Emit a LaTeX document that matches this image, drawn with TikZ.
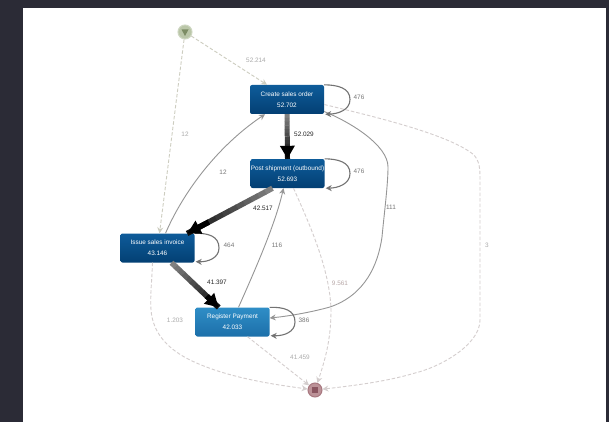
\documentclass[tikz,border=0pt]{standalone}
\usepackage{fontspec}
\setmainfont{Liberation Sans}
\usetikzlibrary{arrows.meta,calc,shapes.geometric}
\definecolor{pagebg}{HTML}{2B2B36}
\definecolor{dashstart}{HTML}{CDCDC0}
\definecolor{dashend}{HTML}{D4CECE}
\definecolor{solidedge}{HTML}{969696}
\definecolor{lab}{HTML}{777777}
\definecolor{dlab}{HTML}{ABABAB}
\definecolor{pinklab}{HTML}{B8A8A8}
\definecolor{darktop}{HTML}{0E5C9A}
\definecolor{darkbot}{HTML}{033F73}
\definecolor{lighttop}{HTML}{2F8EC6}
\definecolor{lightbot}{HTML}{1C6FAA}
\definecolor{startfill}{HTML}{BAC6A8}
\definecolor{startline}{HTML}{CDD6C0}
\definecolor{startmark}{HTML}{7C8C64}
\definecolor{endfill}{HTML}{BC9298}
\definecolor{endline}{HTML}{A87880}
\definecolor{endmark}{HTML}{8A5560}
\tikzset{
  flow/.style={draw=none,rounded corners=2pt,minimum width=74pt,minimum height=29pt,inner sep=0pt,
    align=center,text=white,font=\fontsize{6.4}{11}\selectfont},
  darkflow/.style={flow,top color=darktop,bottom color=darkbot},
  lightflow/.style={flow,top color=lighttop,bottom color=lightbot},
  solid edge/.style={draw=solidedge,line width=0.9pt,-{Stealth[length=6pt,width=6pt]}},
  loop edge/.style={draw=gray!90!black,line width=1.1pt,-{Stealth[length=6pt,width=6pt]}},
  dash s/.style={draw=dashstart,line width=0.9pt,dash pattern=on 3.5pt off 2pt,-{Stealth[length=6pt,width=6pt]}},
  dash e/.style={draw=dashend,line width=0.9pt,dash pattern=on 3.5pt off 2pt,-{Stealth[length=6pt,width=6pt]}},
  elab/.style={text=lab,font=\fontsize{6.4}{8}\selectfont,inner sep=0pt},
  dl/.style={text=dlab,font=\fontsize{6.4}{8}\selectfont,inner sep=0pt},
  blab/.style={text=black!85,font=\fontsize{6.4}{8}\selectfont,inner sep=0pt},
}
\newcommand{\gradedge}[3]{%
  \foreach \i in {0,...,11}{%
    \pgfmathsetmacro{\u}{\i/12}\pgfmathsetmacro{\v}{(\i+1.05)/12}\pgfmathtruncatemacro{\k}{50+\i*4}%
    \draw[line width=#3,draw=black!\k] ($(#1)!\u!(#2)$) -- ($(#1)!\v!(#2)$);}%
  \draw[black,line width=#3,-{Triangle[length=13pt,width=14pt]}] ($(#1)!0.75!(#2)$) -- (#2);}
\begin{document}
\begin{tikzpicture}[x=1pt,y=-1pt]
\useasboundingbox (0,0) rectangle (609,422);
\fill[pagebg] (0,0) rectangle (609,422);
\fill[white] (23,8) rectangle (606,422);

% event nodes
\node[circle,draw=startline,line width=1pt,fill=startfill,minimum size=14pt,inner sep=0pt] (start) at (185,32) {};
\fill[startmark] (181.5,29.5) -- (188.5,29.5) -- (185,36) -- cycle;
\node[circle,draw=endline,line width=1pt,fill=endfill,minimum size=14pt,inner sep=0pt] (finish) at (315,390) {};
\fill[endmark] (312,387) rectangle (318,393);

% activity nodes
\node[darkflow] (create) at (287,99.5) {Create sales order\\52.702};
\node[darkflow] (post) at (287.5,173.5) {Post shipment (outbound)\\52.693};
\node[darkflow] (issue) at (157.5,248) {Issue sales invoice\\43.146};
\node[lightflow] (pay) at (232.5,322) {Register Payment\\42.033};

% dashed start edges
\draw[dash s] (start) -- ([xshift=-20pt]create.north);
\draw[dash s] (start) -- ([xshift=2pt]issue.north);
% dashed end edges
\draw[dash e] ([yshift=-5pt]create.east) .. controls (380,118) and (450,135) .. (474,155)
  .. controls (480,162) and (480,170) .. (480,180) -- (480,320)
  .. controls (480,345) and (440,367) .. (415,373) .. controls (385,382) and (350,386) .. (finish);
\draw[dash e] ([xshift=6pt]post.south) .. controls (310,225) and (330,270) .. (331,310)
  .. controls (331,340) and (325,360) .. (finish);
\draw[dash e] ([xshift=-5pt]issue.south) .. controls (152,280) and (150,295) .. (151,310)
  .. controls (153,335) and (170,350) .. (190,360) .. controls (225,377) and (270,384) .. (finish);
\draw[dash e] ([xshift=15pt]pay.south) -- (finish);

% solid thin edges
\draw[solid edge] ([xshift=8pt]issue.north) .. controls (182,195) and (215,148) .. ([xshift=-22pt]create.south);
\draw[solid edge] ([xshift=6pt]pay.north) .. controls (255,270) and (275,225) .. ([xshift=-4pt]post.south);
\draw[solid edge] ([yshift=-12pt]create.east) .. controls (350,122) and (388,145) .. (388,167)
  .. controls (388,185) and (384,215) .. (382,237) .. controls (378,265) and (365,295) .. (330,307)
  .. controls (312,312) and (290,316) .. ([yshift=4pt]pay.east);

% self loops
\draw[loop edge] (create.north east) .. controls (338,85) and (350,88) .. (350,99.5) .. controls (350,110) and (338,114) .. ([xshift=1pt]create.south east);
\draw[loop edge] (post.north east) .. controls (338,159) and (350,162) .. (350,173.5) .. controls (350,184) and (338,188) .. ([xshift=1pt]post.south east);
\draw[loop edge] (issue.north east) .. controls (208,233) and (219,236) .. (219,248) .. controls (219,258) and (208,262) .. ([xshift=1pt,yshift=1pt]issue.south east);
\draw[loop edge] (pay.north east) .. controls (284,307) and (295,310) .. (295,322) .. controls (295,332) and (284,336) .. ([xshift=1pt,yshift=1pt]pay.south east);

% heavy edges
\gradedge{create.south}{post.north}{5pt}
\coordinate (pa) at ([xshift=-15pt]post.south);
\coordinate (pb) at ([xshift=30pt]issue.north);
\gradedge{pa}{pb}{5.5pt}
\coordinate (ia) at ([xshift=14pt]issue.south);
\coordinate (ib) at ([xshift=-14pt]pay.north);
\gradedge{ia}{ib}{5.5pt}

% labels
\node[dl] at (256,60) {52.214};
\node[dl] at (185,134) {12};
\node[elab] at (223,172) {12};
\node[elab] at (359,97) {476};
\node[elab] at (359,171) {476};
\node[elab] at (229,245) {464};
\node[elab] at (304,320) {386};
\node[elab] at (277,245) {116};
\node[elab] at (391,207) {111};
\node[dl] at (487,245) {3};
\node[dl,text=pinklab] at (340,283) {9.561};
\node[dl] at (175,320) {1.203};
\node[dl] at (300,357) {41.459};
\node[blab] at (304,134) {52.029};
\node[blab] at (263,208) {42.517};
\node[blab] at (217,282) {41.397};
\end{tikzpicture}
\end{document}
